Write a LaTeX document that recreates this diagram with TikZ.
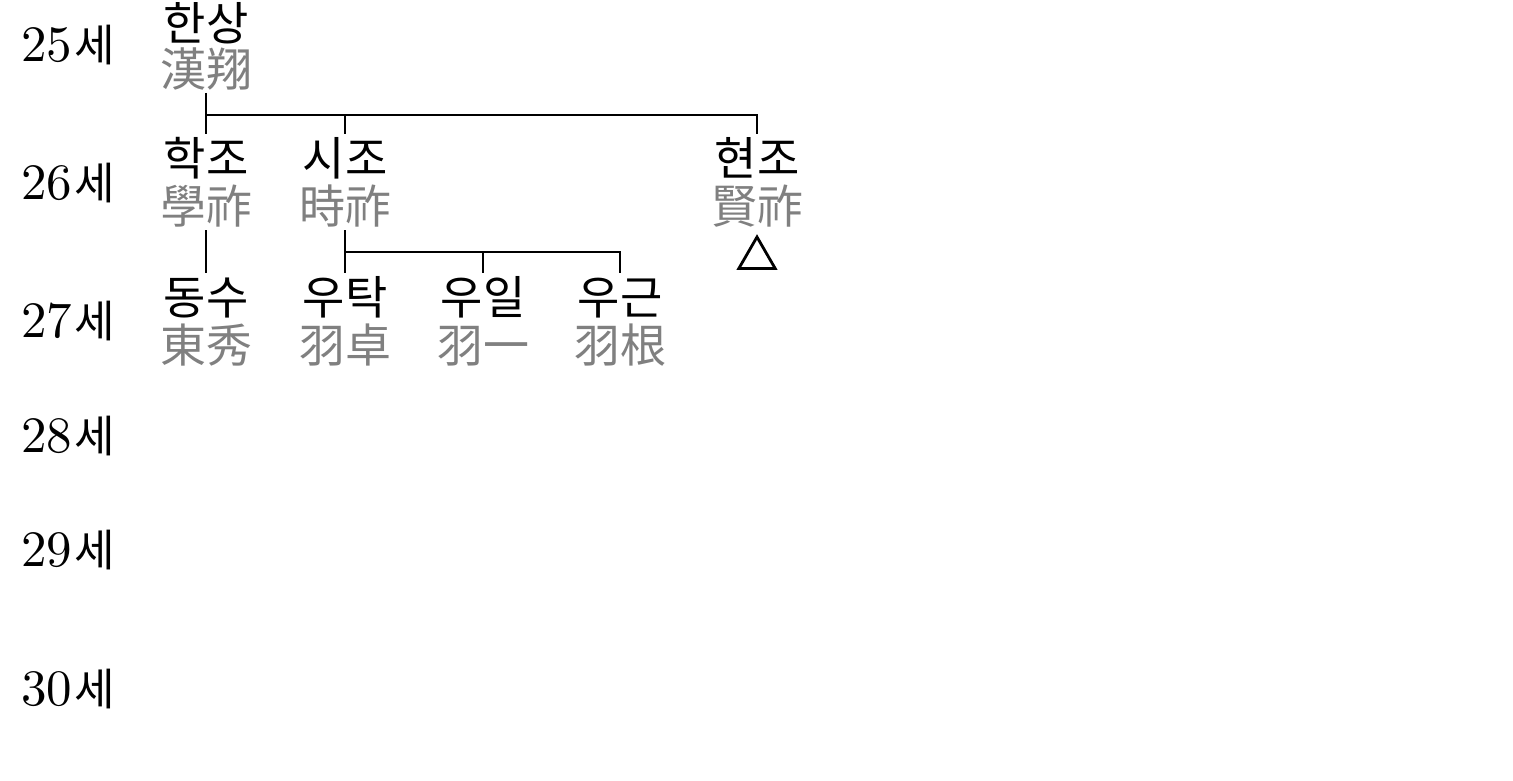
\documentclass[tikz,border=0pt]{standalone}
\usepackage{fontspec}
\newfontfamily\kr{Noto Sans CJK KR}
\newfontfamily\lmten{lmroman10-regular}[Extension=.otf]
\usetikzlibrary{shapes.geometric}
\definecolor{hanja}{RGB}{128,128,128}
\tikzset{
  nm/.style={inner sep=0pt, outer sep=1pt, font=\kr\fontsize{46}{54}\selectfont, text height=40.5pt, text depth=5.5pt, anchor=center},
  hj/.style={nm, text=hanja},
  gen/.style={inner sep=0pt, anchor=base west, font=\lmten\fontsize{51}{60}\selectfont},
  link/.style={line width=1.5pt, black}
}
\newcommand{\se}{\hspace{2pt}{\kr\fontsize{44}{50}\selectfont 세}}
\begin{document}
\begin{tikzpicture}[x=1pt,y=-1pt]
\useasboundingbox (0,0) rectangle (1513,781);
% generation labels
\node[gen] (g25) at (21,62) {25\se};
\node[gen] (g26) at (21,199) {26\se};
\node[gen] (g27) at (21,337) {27\se};
\node[gen] (g28) at (21,452) {28\se};
\node[gen] (g29) at (21,566) {29\se};
\node[gen] (g30) at (21,705) {30\se};
% gen 25
\node[nm] (hsN) at (206,23) {한상};
\node[hj] (hsH) at (206,69) {漢翔};
% gen 26
\node[nm] (hjN) at (206,158) {학조};
\node[hj] (hjH) at (206,206) {學祚};
\node[nm] (sjN) at (345,158) {시조};
\node[hj] (sjH) at (345,206) {時祚};
\node[nm] (hyN) at (757,158) {현조};
\node[hj] (hyH) at (757,206) {賢祚};
\node[draw, regular polygon, regular polygon sides=3, minimum size=42pt, line width=2.8pt, inner sep=0pt] (hyT) at (757,258) {};
% gen 27
\node[nm] (dsN) at (206,297) {동수};
\node[hj] (dsH) at (206,345) {東秀};
\node[nm] (utN) at (345,297) {우탁};
\node[hj] (utH) at (345,345) {羽卓};
\node[nm] (uiN) at (483,297) {우일};
\node[hj] (uiH) at (483,345) {羽一};
\node[nm] (ugN) at (620,297) {우근};
\node[hj] (ugH) at (620,345) {羽根};
% bars
\coordinate (bar1) at (0,115);
\coordinate (bar2) at (0,252);
% connectors
\draw[link] (hsH.south) -- (hjN.north);
\draw[link] (hsH.south |- bar1) -| (sjN.north);
\draw[link] (hsH.south |- bar1) -| (hyN.north);
\draw[link] (hjH.south) -- (dsN.north);
\draw[link] (sjH.south) -- (utN.north);
\draw[link] (sjH.south |- bar2) -| (uiN.north);
\draw[link] (sjH.south |- bar2) -| (ugN.north);
\end{tikzpicture}
\end{document}
